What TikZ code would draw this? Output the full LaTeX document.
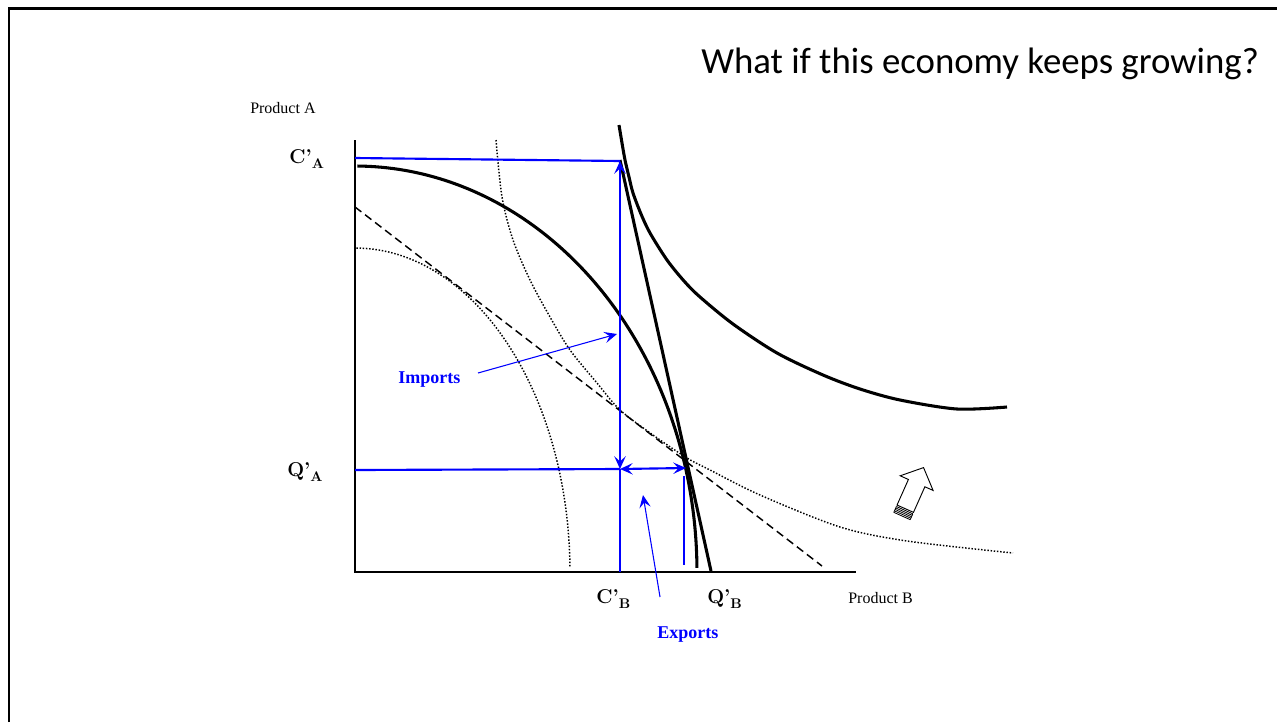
\documentclass[tikz,border=0pt]{standalone}
\usepackage{fontspec}
\newfontfamily\tnr{Liberation Serif}
\newfontfamily\calib{Carlito}
\usetikzlibrary{arrows.meta}
\begin{document}
\begin{tikzpicture}[x=0.75pt,y=-0.75pt,
  axisline/.style={black, line width=1.1pt},
  bluel/.style={blue, line width=1.6pt},
  thinblue/.style={blue, line width=0.8pt},
  bhead/.style={-{Stealth[length=9.5pt,width=8.5pt,inset=3.8pt]}},
  bboth/.style={{Stealth[length=9.5pt,width=8.5pt,inset=3.8pt]}-{Stealth[length=9.5pt,width=8.5pt,inset=3.8pt]}},
  thk/.style={black, line width=2.3pt},
  dotc/.style={black, line width=1.1pt, dash pattern=on 1.1pt off 1.3pt},
  dashl/.style={black, line width=1.1pt, dash pattern=on 6pt off 3.5pt},
  lab/.style={anchor=base west, inner sep=0pt, font=\bfseries\fontsize{15}{17}\selectfont},
  prodlab/.style={anchor=base west, inner sep=0pt, font=\tnr\fontsize{12}{14}\selectfont},
  flowlab/.style={anchor=base west, inner sep=0pt, text=blue, font=\tnr\bfseries\fontsize{13.5}{16}\selectfont}
]
\useasboundingbox (0,0) rectangle (1277,722);
% frame
\draw[line width=2pt] (9,722) -- (9,8.5) -- (1277,8.5);
% title
\node[anchor=base west, inner sep=0pt, font=\calib\fontsize{27.6}{32}\selectfont] (title) at (701,73) {What if this economy keeps growing?};
% axes
\coordinate (O) at (355,572);
\coordinate (Ytop) at (355,140);
\coordinate (Xend) at (856,572);
\draw[axisline] (Ytop) -- (O) -- (Xend);
\node[prodlab] (pa) at (250,113) {Product A};
\node[prodlab] (pb) at (848,603) {Product B};
% dashed old price line
\coordinate (D1) at (355,207);
\coordinate (D2) at (822,566);
\draw[dashl] (D1) -- (D2);
% inner dotted PPF
\draw[dotc] plot[domain=1:90, samples=70] ({355+215*cos(\x)},{572-324*sin(\x)});
% dotted indifference curve
\draw[dotc] plot[smooth] coordinates {(496,140) (502,197) (513,240) (530,280) (550,317) (570,350) (597,383) (620,410) (653,435) (687,458) (710,470) (760,495) (840,527) (907,541) (1013,553)};
% thick PPF
\draw[thk] plot[domain=0.6:89.6, samples=90] ({355+342*cos(\x)},{572-406*sin(\x)});
% steep price line
\coordinate (Pt) at (620,160);
\coordinate (Pb) at (711,571);
\draw[thk] (Pt) -- (Pb);
% big indifference curve
\draw[thk] plot[smooth] coordinates {(619,125) (622,143) (625,160) (629,177) (633,193) (641,214) (650,233) (667,260) (684,281) (700,297) (733,324) (777,353) (823,375) (860,389) (900,400) (957,409) (1007,407)};
% blue lines
\coordinate (CAl) at (355,158);
\coordinate (CAr) at (620,161);
\coordinate (QAl) at (355,470);
\coordinate (QAm) at (620,469);
\coordinate (QAr) at (686,468);
\coordinate (CBb) at (620,572);
\coordinate (QBt) at (684,476);
\coordinate (QBb) at (684,565);
\draw[bluel] (CAl) -- (CAr);
\draw[bluel, bboth] (QAm) -- (CAr);
\draw[bluel] (QAm) -- (CBb);
\draw[bluel] (QAl) -- (QAm);
\draw[bluel, bboth] (QAm) -- (QAr);
\draw[bluel] (QBt) -- (QBb);
% labels
\node[lab] (CA) at (289,163) {C’\raisebox{-4pt}{\fontsize{10.5}{12}\selectfont A}};
\node[lab] (QA) at (287,476) {Q’\raisebox{-4pt}{\fontsize{10.5}{12}\selectfont A}};
\node[lab] (CB) at (596,603) {C’\raisebox{-4pt}{\fontsize{10.5}{12}\selectfont B}};
\node[lab] (QB) at (707,603) {Q’\raisebox{-4pt}{\fontsize{10.5}{12}\selectfont B}};
% imports / exports
\node[flowlab] (imp) at (398,383) {Imports};
\coordinate (impS) at (478,373);
\coordinate (impT) at (617,334);
\draw[thinblue, bhead] (impS) -- (impT);
\node[flowlab] (exp) at (657,638) {Exports};
\coordinate (expS) at (660,597);
\coordinate (expT) at (643,495);
\draw[thinblue, bhead] (expS) -- (expT);
% hollow striped block arrow
\begin{scope}[shift={(902,516)}, rotate=66]
  \draw[black, line width=0.7pt, fill=white] (8,-9) -- (36,-9) -- (36,-18) -- (53,0) -- (36,18) -- (36,9) -- (8,9) -- cycle;
  \foreach \u in {0,1.6,3.2,4.8,6.4} {\draw[black, line width=0.6pt] (\u,-9) -- (\u,9);}
  \draw[black, line width=0.6pt] (0,-9) -- (6.4,-9) (0,9) -- (6.4,9);
\end{scope}
\end{tikzpicture}
\end{document}
